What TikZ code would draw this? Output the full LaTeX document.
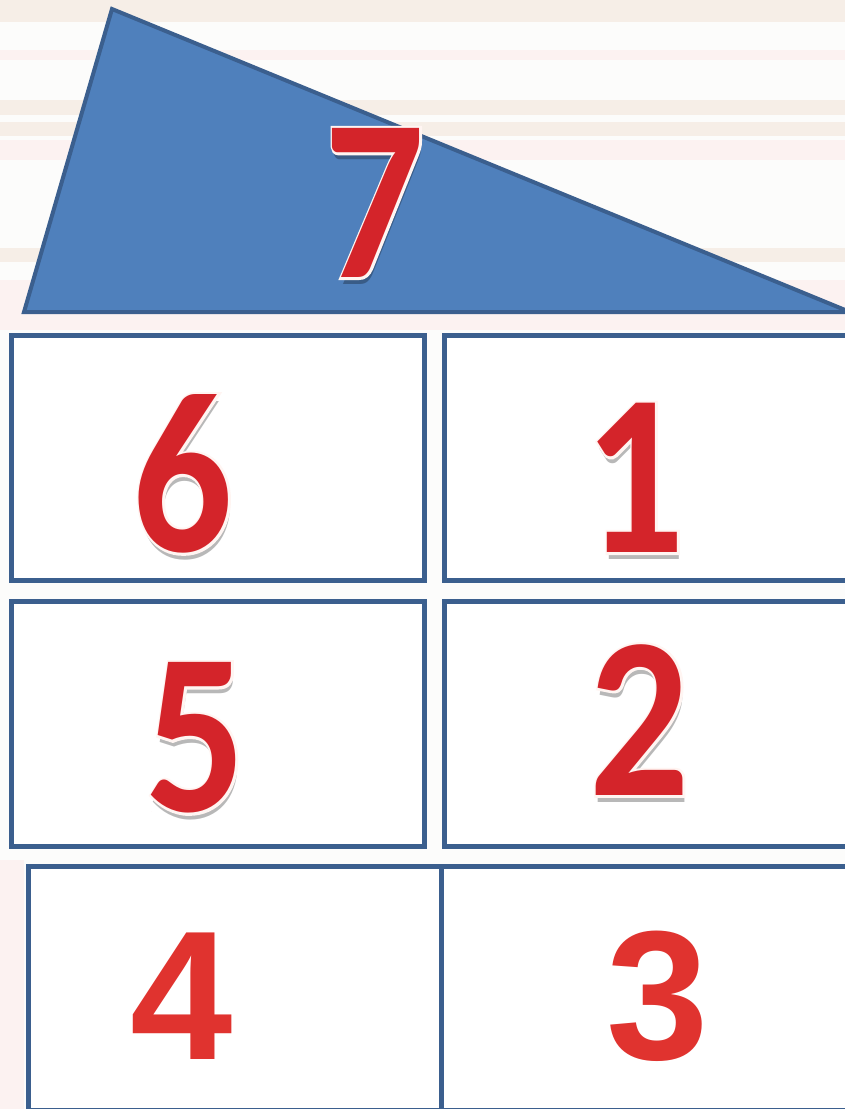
\documentclass[tikz,border=0pt]{standalone}
\usepackage{fontspec}
\newfontfamily\calfont{Carlito}[BoldFont={* Bold}]
\newfontfamily\arfont{Liberation Sans}[BoldFont={* Bold}]
\definecolor{bgpink}{HTML}{FCF2F1}
\definecolor{bgbeige}{HTML}{F6EEE7}
\definecolor{bgwhite}{HTML}{FCFCFB}
\definecolor{triblue}{HTML}{4F80BC}
\definecolor{edgeblue}{HTML}{3B5F8E}
\definecolor{digred}{HTML}{D4242A}
\definecolor{flatred}{HTML}{E0332F}
\newcommand{\outlined}[1]{\special{pdf:literal 2 Tr 5 w 1 0.96 0.95 RG}#1\special{pdf:literal 0 Tr}}
\tikzset{
  cell/.style={draw=edgeblue, line width=5pt, fill=white, inner sep=0pt, anchor=north west},
  fancydigit/.style={inner sep=0pt, font=\calfont\bfseries\fontsize{230}{230}\selectfont, xscale=0.86},
  plaindigit/.style={inner sep=0pt, text=flatred, font=\arfont\bfseries\fontsize{184}{184}\selectfont}
}
\newcommand{\fancynum}[3]{%
  \node[fancydigit, text=black, opacity=0.28] at ([shift={(2,7)}]#1) {#3};
  \node[fancydigit, text=digred] at (#1) {\outlined{#3}};
  \node[fancydigit, text=digred] (#2) at (#1) {#3};}
\begin{document}
\begin{tikzpicture}[x=1pt,y=-1pt]
\useasboundingbox (0,0) rectangle (845,1109);
\clip (0,0) rectangle (845,1109);
% background with faint stripes
\fill[bgwhite] (0,0) rectangle (845,1109);
\fill[bgbeige] (0,0) rectangle (845,22);
\fill[bgpink] (0,50) rectangle (845,60);
\fill[bgbeige] (0,100) rectangle (845,115);
\fill[bgbeige] (0,122) rectangle (845,136);
\fill[bgpink] (0,140) rectangle (845,160);
\fill[bgbeige] (0,248) rectangle (845,262);
\fill[bgpink] (0,280) rectangle (845,330);
\fill[bgpink] (0,860) rectangle (24,1109);
% triangle
\coordinate (apex) at (112,9);
\coordinate (bl) at (24,312);
\coordinate (br) at (850,312);
\filldraw[fill=triblue, draw=edgeblue, line width=4pt, line join=miter] (apex) -- (bl) -- (br) -- cycle;
% cells
\node[cell, minimum width=413pt, minimum height=245pt] (c6) at (9,333) {};
\node[cell, minimum width=420pt, minimum height=245pt] (c1) at (442,333) {};
\node[cell, minimum width=413pt, minimum height=245pt] (c5) at (9,599) {};
\node[cell, minimum width=420pt, minimum height=245pt] (c2) at (442,599) {};
\node[cell, minimum width=413pt, minimum height=244pt] (c4) at (26,864) {};
\node[cell, minimum width=420pt, minimum height=244pt] (c3) at (439,864) {};
% digits
\fancynum{375,203}{d7}{7}
\fancynum{183,474}{d6}{6}
\fancynum{635,478}{d1}{1}
\fancynum{196,738}{d5}{5}
\fancynum{640,720}{d2}{2}
\node[plaindigit] (d4) at (182,996) {4};
\node[plaindigit] (d3) at (658,996) {3};
\end{tikzpicture}
\end{document}
